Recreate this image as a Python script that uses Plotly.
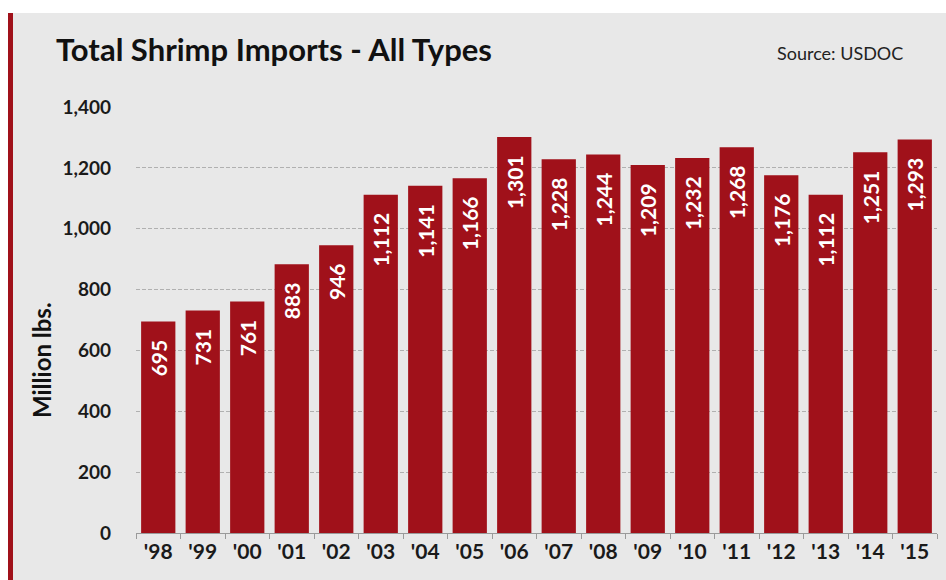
import plotly.graph_objects as go

years = ["'98", "'99", "'00", "'01", "'02", "'03", "'04", "'05", "'06", "'07", "'08", "'09", "'10", "'11", "'12", "'13", "'14", "'15"]
imports = [695, 731, 761, 883, 946, 1112, 1141, 1166, 1301, 1228, 1244, 1209, 1232, 1268, 1176, 1112, 1251, 1293]
y_ticks = [0, 200, 400, 600, 800, 1000, 1200, 1400]

W, H = 946, 580
ML, MR, MT, MB = 136, 9, 107, 47
PW, PH = W - ML - MR, H - MT - MB

def px(x):
    return (x - ML) / PW

def py(y):
    return (H - MB - y) / PH

FONT = "Lato"
bar_color = "#a0111a"

fig = go.Figure(go.Bar(
    x=years, y=imports,
    marker=dict(color=bar_color, line=dict(width=0)),
    text=[f"{v:,}   " for v in imports],
    textposition="inside", insidetextanchor="end", textangle=-90,
    textfont=dict(family=FONT, size=21, color="white", weight="bold"),
    cliponaxis=False,
))

fig.update_layout(
    width=W, height=H,
    margin=dict(l=ML, r=MR, t=MT, b=MB),
    paper_bgcolor="white", plot_bgcolor="rgba(0,0,0,0)",
    bargap=0.23, showlegend=False,
    font=dict(family=FONT, color="#222222"),
    uniformtext=dict(minsize=8, mode="show"),
    xaxis=dict(
        showline=True, linecolor="#9a9a9a", linewidth=1,
        ticks="outside", tickson="boundaries", ticklen=5, tickcolor="#9a9a9a",
        tickfont=dict(size=21, color="#1a1a1a", weight="bold"),
        showgrid=False,
    ),
    yaxis=dict(
        range=[0, 1400], tickvals=y_ticks, tickformat=",",
        tickfont=dict(size=19, color="#1a1a1a", weight="bold"),
        showgrid=True, gridcolor="#b0b0b0", griddash="4px,2px", gridwidth=1,
        zeroline=False, showline=False, ticks="", ticklabelstandoff=24,
    ),
    shapes=[
        dict(type="rect", xref="paper", yref="paper", layer="below",
             x0=px(8), x1=px(W), y0=py(H), y1=py(13),
             fillcolor="#e8e8e8", line=dict(width=0)),
        dict(type="rect", xref="paper", yref="paper", layer="below",
             x0=px(8), x1=px(13), y0=py(H), y1=py(13),
             fillcolor="#a0111a", line=dict(width=0)),
    ],
    annotations=[
        dict(text="<b>Total Shrimp Imports - All Types</b>", xref="paper", yref="paper",
             x=px(54), y=py(49), xanchor="left", yanchor="middle", showarrow=False,
             font=dict(family=FONT, size=31, color="#111111")),
        dict(text="Source: USDOC", xref="paper", yref="paper",
             x=px(905), y=py(53), xanchor="right", yanchor="middle", showarrow=False,
             font=dict(family=FONT, size=18, color="#222222")),
        dict(text="<b>Million lbs.</b>", xref="paper", yref="paper",
             x=px(41), y=py(360), xanchor="center", yanchor="middle", showarrow=False,
             textangle=-90, font=dict(family=FONT, size=24, color="#111111")),
    ],
)

fig.write_html("out.html")
